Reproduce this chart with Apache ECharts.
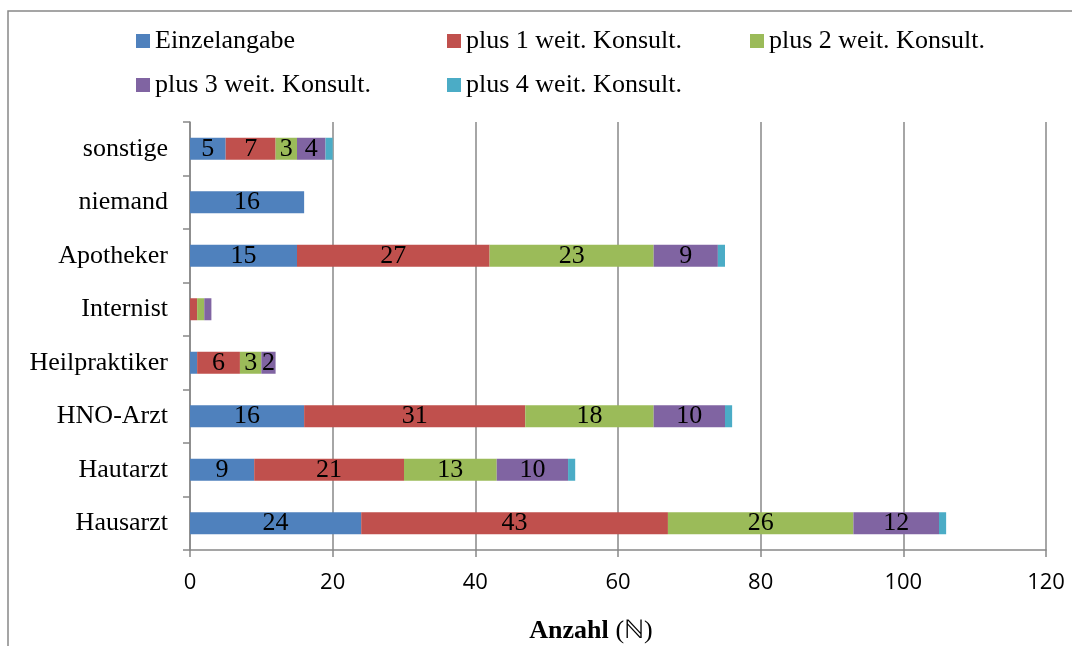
<!DOCTYPE html>
<html>
<head>
<meta charset="utf-8">
<script src="https://cdn.jsdelivr.net/npm/echarts@6/dist/echarts.min.js"></script>
<style>html,body{margin:0;padding:0;background:#fff}#c{width:1072px;height:646px}</style>
</head>
<body>
<div id="c"></div>
<script>
var categories = ["Hausarzt","Hautarzt","HNO-Arzt","Heilpraktiker","Internist","Apotheker","niemand","sonstige"];
var seriesNames = ["Einzelangabe","plus 1 weit. Konsult.","plus 2 weit. Konsult.","plus 3 weit. Konsult.","plus 4 weit. Konsult."];
var einzelangabe = [24, 9, 16, 1, 0, 15, 16, 5];
var plus1 = [43, 21, 31, 6, 1, 27, 0, 7];
var plus2 = [26, 13, 18, 3, 1, 23, 0, 3];
var plus3 = [12, 10, 10, 2, 1, 9, 0, 4];
var plus4 = [1, 1, 1, 0, 0, 1, 0, 1];
var xTicks = [0, 20, 40, 60, 80, 100, 120];
var colors = ["#4F81BD","#C0504D","#9BBB59","#8064A2","#4BACC6"];

var seriesData = [einzelangabe, plus1, plus2, plus3, plus4];
var serif = "'Liberation Serif','Times New Roman',serif";

var legendPos = [[136,28],[447,28],[750,28],[136,72],[447,72]];
var legends = seriesNames.map(function(n,i){
  return {
    data:[n], left:legendPos[i][0], top:legendPos[i][1],
    itemWidth:14, itemHeight:14, itemGap:5, padding:0,
    icon:'rect',
    textStyle:{fontFamily:serif, fontSize:26, color:'#000'}
  };
});

var series = seriesNames.map(function(n,i){
  return {
    name:n, type:'bar', stack:'total', barWidth:22,
    itemStyle:{color:colors[i]},
    label:{show:true, position:'inside', color:'#000', fontFamily:serif, fontSize:26,
      formatter:function(p){ return p.value > 1 ? String(p.value) : ''; }},
    data:seriesData[i]
  };
});

var chart = echarts.init(document.getElementById('c'), null, {renderer:'canvas'});
chart.setOption({
  animation:false,
  color:colors,
  legend:legends,
  grid:{left:190, right:26, top:122, bottom:96, containLabel:false, outerBoundsMode:'none'},
  xAxis:{
    type:'value', min:xTicks[0], max:xTicks[xTicks.length-1], interval:20,
    axisLine:{show:true, lineStyle:{color:'#888', width:1.5}},
    axisTick:{show:true, length:7, lineStyle:{color:'#888', width:1.5}},
    splitLine:{show:true, lineStyle:{color:'#888', width:1.5}},
    axisLabel:{color:'#000', fontFamily:"'Open Sans',sans-serif", fontSize:22, margin:22},
    name:'{b|Anzahl}  {n|(ℕ)}', nameLocation:'middle', nameGap:68,
    nameTextStyle:{padding:[0,54,0,0],
      rich:{b:{fontFamily:serif, fontWeight:'bold', fontSize:26, color:'#000'},
            n:{fontFamily:serif, fontSize:26, color:'#000'}}}
  },
  yAxis:{
    type:'category', data:categories,
    axisLine:{show:true, lineStyle:{color:'#888', width:1.5}},
    axisTick:{show:true, length:7, lineStyle:{color:'#888', width:1.5}},
    axisLabel:{color:'#000', fontFamily:serif, fontSize:26, margin:22, padding:[4,0,0,0]}
  },
  graphic:[{type:'rect', shape:{x:8, y:11, width:1200, height:800},
    style:{fill:'none', stroke:'#888', lineWidth:1.5}, silent:true, z:-1}],
  series:series
});
</script>
</body>
</html>
